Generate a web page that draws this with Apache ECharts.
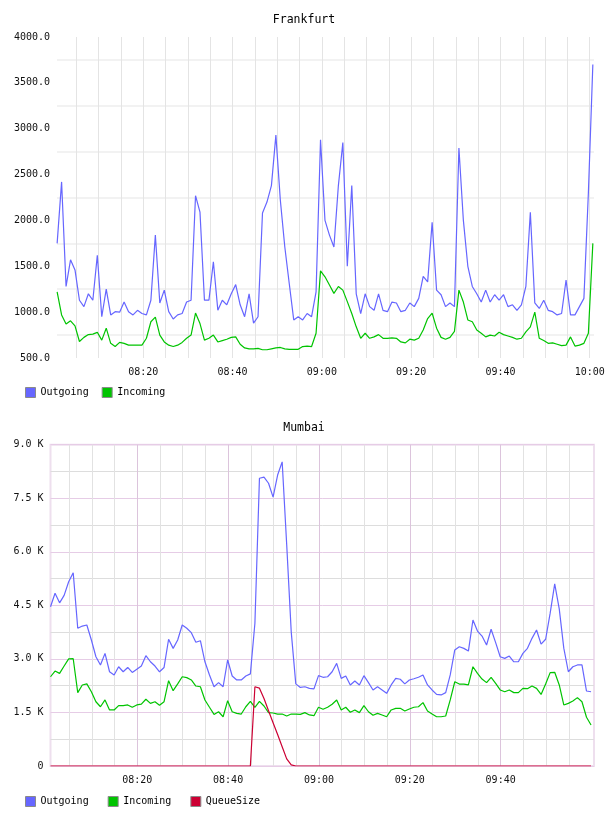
<!DOCTYPE html>
<html lang="en">
<head>
	<meta charset="UTF-8">
	<title>Frankfurt / Mumbai</title>
	<script src="https://cdn.jsdelivr.net/npm/echarts@6.0.0/dist/echarts.min.js"></script>
	<style>
		html, body { margin: 0; padding: 0; background: #fff; }
		#main { width: 608px; height: 816px; }
	</style>
</head>
<body>
	<div id="main"></div>
	<script>
		// time is in minutes after 08:00, one sample per minute
		var STEP = 1;
		var topStart = 0.7;
		var mumStart = 0.9;

		// Frankfurt
		var fraOutgoing = [
			1750, 2420, 1280, 1570, 1460, 1130, 1060, 1200, 1130, 1620,
			950, 1250, 970, 1005, 1000, 1110, 1005, 970, 1020, 985,
			970, 1130, 1840, 1100, 1240, 1005, 925, 970, 985, 1110,
			1130, 2270, 2090, 1130, 1130, 1550, 1020, 1130, 1080, 1200,
			1300, 1080, 950, 1200, 880, 950, 2080, 2200, 2380, 2930,
			2220, 1710, 1310, 915, 950, 915, 985, 950, 1220, 2880,
			2000, 1840, 1710, 2380, 2850, 1500, 2380, 1200, 985, 1200,
			1060, 1020, 1200, 1020, 1005, 1110, 1100, 1005, 1020, 1100,
			1060, 1150, 1390, 1330, 1980, 1240, 1190, 1060, 1100, 1060,
			2790, 2000, 1500, 1280, 1200, 1110, 1240, 1110, 1190, 1130,
			1190, 1060, 1080, 1020, 1080, 1280, 2090, 1100, 1040, 1130,
			1020, 1005, 970, 985, 1350, 970, 970, 1060, 1150, 2300,
			3700
		];
		var fraIncoming = [
			1220, 970, 870, 905, 850, 680, 725, 755, 760, 780,
			695, 825, 660, 625, 670, 660, 640, 640, 640, 640,
			715, 895, 945, 750, 675, 640, 625, 640, 670, 715,
			750, 990, 875, 695, 715, 750, 675, 690, 705, 725,
			730, 650, 610, 600, 600, 605, 590, 590, 600, 610,
			615, 600, 595, 595, 595, 625, 630, 625, 770, 1450,
			1385, 1295, 1205, 1280, 1240, 1115, 985, 840, 715, 770,
			715, 730, 755, 715, 715, 720, 715, 675, 665, 705,
			695, 715, 805, 930, 990, 825, 725, 705, 725, 790,
			1240, 1110, 915, 895, 805, 770, 730, 750, 740, 780,
			755, 740, 725, 705, 715, 785, 840, 1000, 715, 690,
			660, 665, 650, 635, 640, 730, 630, 640, 660, 770,
			1750
		];

		// Mumbai
		var mumOutgoing = [
			4460, 4840, 4570, 4780, 5160, 5415, 3860, 3920, 3950, 3530,
			3060, 2830, 3155, 2640, 2550, 2780, 2640, 2760, 2620, 2710,
			2800, 3090, 2920, 2800, 2640, 2760, 3550, 3295, 3530, 3950,
			3860, 3735, 3465, 3510, 2920, 2550, 2220, 2335, 2220, 2970,
			2520, 2410, 2410, 2520, 2580, 4000, 8060, 8090, 7920, 7530,
			8150, 8520, 6200, 3750, 2300, 2200, 2220, 2175, 2160, 2530,
			2485, 2500, 2640, 2875, 2455, 2520, 2270, 2380, 2270, 2530,
			2335, 2130, 2220, 2130, 2035, 2270, 2455, 2430, 2300, 2410,
			2445, 2485, 2550, 2270, 2130, 2005, 1990, 2055, 2550, 3250,
			3340, 3295, 3220, 4090, 3780, 3640, 3390, 3830, 3455, 3060,
			3015, 3080, 2920, 2920, 3155, 3295, 3575, 3810, 3415, 3550,
			4280, 5100, 4400, 3300, 2640, 2780, 2830, 2830, 2100, 2080
		];
		var mumIncoming = [
			2500, 2660, 2595, 2800, 3000, 3005, 2055, 2270, 2300, 2080,
			1800, 1660, 1850, 1570, 1570, 1690, 1690, 1710, 1645, 1710,
			1735, 1870, 1755, 1800, 1700, 1800, 2390, 2110, 2300, 2500,
			2475, 2410, 2240, 2220, 1850, 1645, 1445, 1520, 1380, 1830,
			1520, 1475, 1455, 1660, 1810, 1645, 1810, 1680, 1495, 1485,
			1455, 1455, 1400, 1455, 1455, 1445, 1495, 1430, 1410, 1645,
			1590, 1645, 1730, 1850, 1570, 1645, 1505, 1570, 1495, 1690,
			1520, 1420, 1475, 1430, 1380, 1570, 1615, 1615, 1540, 1595,
			1645, 1660, 1775, 1540, 1455, 1380, 1380, 1400, 1850, 2360,
			2295, 2295, 2270, 2780, 2595, 2435, 2335, 2485, 2315, 2130,
			2080, 2130, 2055, 2055, 2175, 2165, 2240, 2175, 2005, 2295,
			2615, 2625, 2270, 1710, 1755, 1820, 1915, 1800, 1365, 1150
		];
		var mumQueue = [
			0, 0, 0, 0, 0, 0, 0, 0, 0, 0,
			0, 0, 0, 0, 0, 0, 0, 0, 0, 0,
			0, 0, 0, 0, 0, 0, 0, 0, 0, 0,
			0, 0, 0, 0, 0, 0, 0, 0, 0, 0,
			0, 0, 0, 0, 0, 2220, 2180, 1890, 1550, 1210,
			880, 540, 200, 30, 0, 0, 0, 0, 0, 0,
			0, 0, 0, 0, 0, 0, 0, 0, 0, 0,
			0, 0, 0, 0, 0, 0, 0, 0, 0, 0,
			0, 0, 0, 0, 0, 0, 0, 0, 0, 0,
			0, 0, 0, 0, 0, 0, 0, 0, 0, 0,
			0, 0, 0, 0, 0, 0, 0, 0, 0, 0,
			0, 0, 0, 0, 0, 0, 0, 0, 0, 0
		];

		// ticks (minutes after 08:00 / values)
		var timeLabelsTop = [20, 40, 60, 80, 100, 120];
		var timeLabelsMum = [20, 40, 60, 80, 100];
		var timeGridTop = [5, 10, 15, 20, 25, 30, 35, 40, 45, 50, 55, 60, 65, 70, 75, 80, 85, 90, 95, 100, 105, 110, 115, 120];
		var timeGridMum = [5, 10, 15, 20, 25, 30, 35, 40, 45, 50, 55, 60, 65, 70, 75, 80, 85, 90, 95, 100, 105, 110, 115];
		var fraYLabels = [500, 1000, 1500, 2000, 2500, 3000, 3500, 4000];
		var fraYGrid = [750, 1250, 1750, 2250, 2750, 3250, 3750];
		var mumYLabels = [0, 1500, 3000, 4500, 6000, 7500, 9000];
		var mumYGrid = [0, 750, 1500, 2250, 3000, 3750, 4500, 5250, 6000, 6750, 7500, 8250, 9000];

		var FONT = 'DejaVu Sans Mono';
		var BLUE = '#6666ff';
		var GREEN = '#00c400';
		var RED = '#cc0033';

		function pad(n){
			return n < 10 ? '0' + n : '' + n;
		}
		function fmtTime(v){
			var m = Math.round(v);
			return pad(8 + Math.floor(m / 60)) + ':' + pad(m % 60);
		}
		function pairs(start, vals){
			return vals.map(function(v, i){ return [start + i * STEP, v]; });
		}
		function line(name, color, start, vals, idx){
			return {
				name: name,
				type: 'line',
				xAxisIndex: idx,
				yAxisIndex: idx,
				data: pairs(start, vals),
				showSymbol: false,
				symbol: 'none',
				color: color,
				lineStyle: { color: color, width: 1.2 },
				animation: false
			};
		}

		var labelStyle = { fontFamily: FONT, fontSize: 10, color: '#111' };

		var myChart = echarts.init(document.getElementById('main'));
		var option = {
			backgroundColor: '#fff',
			animation: false,
			textStyle: { fontFamily: FONT },
			title: [
				{ text: 'Frankfurt', left: 'center', top: 14, padding: 0,
					textStyle: { fontFamily: FONT, fontSize: 11.5, fontWeight: 'normal', color: '#000' } },
				{ text: 'Mumbai', left: 'center', top: 422, padding: 0,
					textStyle: { fontFamily: FONT, fontSize: 11.5, fontWeight: 'normal', color: '#000' } }
			],
			legend: [
				{ data: ['Outgoing', 'Incoming'], left: 25, top: 387, padding: 0, itemGap: 13,
					icon: 'rect', itemWidth: 10, itemHeight: 10,
					itemStyle: { borderColor: '#8a8a8a', borderWidth: 1 },
					textStyle: { fontFamily: FONT, fontSize: 10, color: '#000' } },
				{ data: ['Outgoing', 'Incoming', 'QueueSize'], left: 25, top: 796, padding: 0, itemGap: 19,
					icon: 'rect', itemWidth: 10, itemHeight: 10,
					itemStyle: { borderColor: '#8a8a8a', borderWidth: 1 },
					textStyle: { fontFamily: FONT, fontSize: 10, color: '#000' } }
			],
			grid: [
				{ left: 57, right: 14, top: 37, height: 321 },
				{ left: 50.5, right: 14, top: 444.7, height: 321.3, show: true,
					borderColor: '#eedfee', borderWidth: 2, backgroundColor: 'transparent' }
			],
			xAxis: [
				{ gridIndex: 0, type: 'value', min: 0.67, max: 120.96,
					axisLine: { show: false },
					axisTick: { show: false, customValues: timeGridTop },
					axisLabel: Object.assign({ customValues: timeLabelsTop, formatter: fmtTime, margin: 9 }, labelStyle),
					splitLine: { show: true, lineStyle: { color: '#e4e4e4', width: 1 } } },
				{ gridIndex: 1, type: 'value', min: 0.9, max: 120.55,
					axisLine: { show: false },
					axisTick: { show: false, customValues: timeGridMum },
					axisLabel: Object.assign({ customValues: timeLabelsMum, formatter: fmtTime, margin: 9 }, labelStyle),
					splitLine: { show: true, lineStyle: { color: ['#e2e2e2', '#e2e2e2', '#e2e2e2', '#dcc4dc'], width: 1 } } }
			],
			yAxis: [
				{ gridIndex: 0, type: 'value', min: 500, max: 4000,
					axisLine: { show: false },
					axisTick: { show: false, customValues: fraYGrid },
					axisLabel: Object.assign({ customValues: fraYLabels, margin: 7,
						formatter: function(v){ return v.toFixed(1); } }, labelStyle),
					splitLine: { show: true, lineStyle: { color: '#eeeeee', width: 1.5 } } },
				{ gridIndex: 1, type: 'value', min: 0, max: 9000,
					axisLine: { show: false },
					axisTick: { show: false, customValues: mumYGrid },
					axisLabel: Object.assign({ customValues: mumYLabels, margin: 7,
						formatter: function(v){ return v === 0 ? '0' : (v / 1000).toFixed(1) + ' K'; } }, labelStyle),
					splitLine: { show: true, lineStyle: { color: ['#e6cce6', '#dddddd'], width: 1 } } }
			],
			series: [
				line('Outgoing', BLUE, topStart, fraOutgoing, 0),
				line('Incoming', GREEN, topStart, fraIncoming, 0),
				line('Outgoing', BLUE, mumStart, mumOutgoing, 1),
				line('Incoming', GREEN, mumStart, mumIncoming, 1),
				line('QueueSize', RED, mumStart, mumQueue, 1)
			]
		};
		myChart.setOption(option);
	</script>
</body>
</html>
